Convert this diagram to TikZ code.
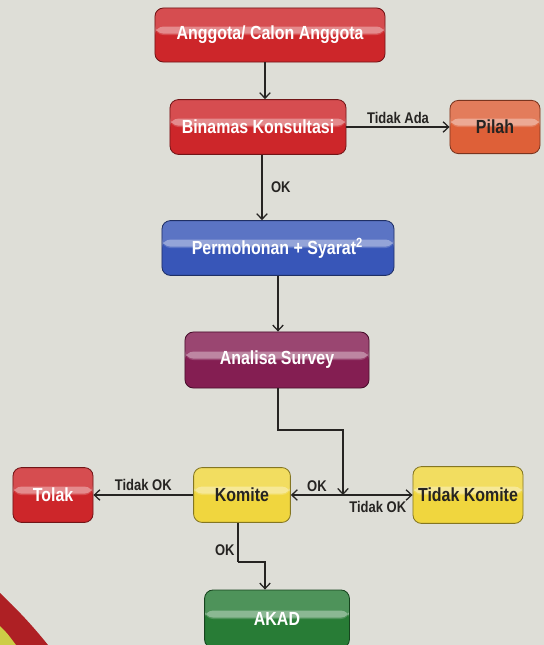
\documentclass[tikz,border=0pt]{standalone}
\usepackage{fontspec}
\setmainfont{Liberation Sans}[FakeStretch=0.84]
\usetikzlibrary{positioning,arrows.meta}

\definecolor{bgpaper}{RGB}{222,222,215}
\definecolor{boxred}{RGB}{205,38,42}
\definecolor{boxorange}{RGB}{222,96,56}
\definecolor{boxblue}{RGB}{56,86,184}
\definecolor{boxpurple}{RGB}{132,30,82}
\definecolor{boxyellow}{RGB}{240,214,62}
\definecolor{boxgreen}{RGB}{40,124,54}
\definecolor{inkdark}{RGB}{38,36,34}
\definecolor{cornerlime}{RGB}{205,205,70}

\tikzset{
  box/.style={draw=#1!55!black, line width=0.6pt, rounded corners=6pt, fill=#1,
    font=\bfseries\fontsize{13.5}{15}\selectfont, text=white, inner sep=2pt,
    path picture={
      \fill[white, opacity=0.18] (path picture bounding box.north west) rectangle (path picture bounding box.east);
      \fill[white, opacity=0.35] ([yshift=6pt]path picture bounding box.west) rectangle ([yshift=1pt]path picture bounding box.east);
    }},
  darkbox/.style={box=#1, text=inkdark},
  lbl/.style={font=\bfseries\fontsize{11}{13}\selectfont, text=inkdark, inner sep=2pt},
  arr/.style={-{Straight Barb[length=4pt,width=7.5pt,line width=0.9pt]}, line width=0.8pt, draw=inkdark},
  ln/.style={line width=0.8pt, draw=inkdark}
}

\begin{document}
\begin{tikzpicture}[x=0.025cm, y=-0.025cm]
		%%%%% background %%%%%
		\fill[bgpaper] (0,0) rectangle (544,645);
		\useasboundingbox (0,0) rectangle (544,645);
		\fill[boxred!85!black] (0,593) .. controls (22,614) and (36,630) .. (48,645) -- (0,645) -- cycle;
		\fill[cornerlime] (0,626) .. controls (7,633) .. (16,645) -- (0,645) -- cycle;
		
		%%%%% boxes %%%%%
		\node[box=boxred, minimum width=5.75cm, minimum height=1.35cm] (anggota) at (270,35) {Anggota/ Calon Anggota};
		\node[box=boxred, minimum width=4.4cm, minimum height=1.37cm] (binamas) at (258,127) {Binamas Konsultasi};
		\node[darkbox=boxorange, minimum width=2.25cm, minimum height=1.33cm] (pilah) at (495,127) {Pilah};
		\node[box=boxblue, minimum width=5.8cm, minimum height=1.37cm] (syarat) at (278,248) {Permohonan + Syarat$^{\mathbf{2}}$};
		\node[box=boxpurple, minimum width=4.6cm, minimum height=1.4cm] (analisa) at (277,360) {Analisa Survey};
		\node[darkbox=boxyellow, minimum width=2.42cm, minimum height=1.37cm] (komite) at (242,495) {Komite};
		\node[darkbox=boxyellow, minimum width=2.75cm, minimum height=1.42cm] (tidakkomite) at (468,495) {Tidak Komite};
		\node[box=boxred, minimum width=2cm, minimum height=1.37cm] (tolak) at (53,495) {Tolak};
		\node[box=boxgreen, minimum width=3.62cm, minimum height=1.45cm] (akad) at (277,619) {AKAD};
		
		%%%%% connectors %%%%%
		\draw[arr] (anggota.south -| 265,0) -- (binamas.north -| 265,0);
		\draw[arr] (binamas.east) -- node[lbl, above] {Tidak Ada} (pilah.west);
		\draw[arr] (binamas.south -| 262,0) -- node[lbl, right, xshift=4pt] {OK} (syarat.north -| 262,0);
		\draw[arr] (syarat.south -| 278,0) -- (analisa.north -| 278,0);
		
		\coordinate (split) at (343,495);
		\draw[arr] (analisa.south -| 278,0) |- (343,430) -- (split);
		\draw[arr] (split) -- node[lbl, above] {OK} (komite.east);
		\draw[arr] (split) -- node[lbl, below, yshift=-2pt] {Tidak OK} (tidakkomite.west);
		\draw[arr] (komite.west) -- node[lbl, above, yshift=1pt] {Tidak OK} (tolak.east);
		
		\coordinate (bend) at (238,562);
		\draw[ln] (komite.south -| bend) -- node[lbl, left, pos=0.7] {OK} (bend);
		\draw[arr] (bend) -| (akad.north -| 265,0);
		
	\end{tikzpicture}
\end{document}
